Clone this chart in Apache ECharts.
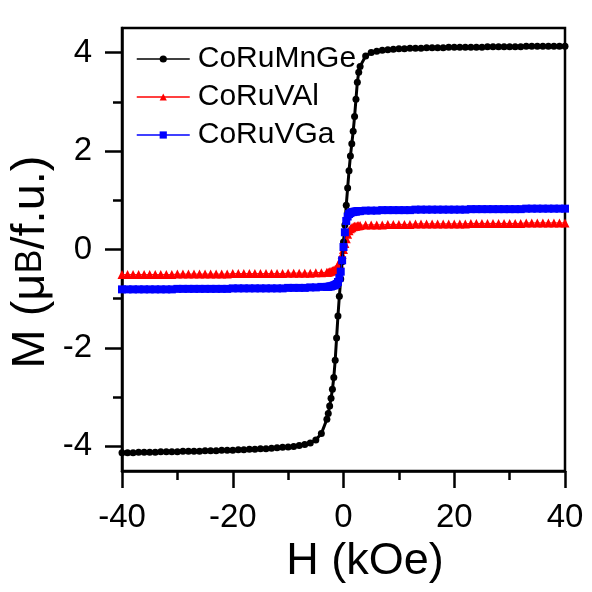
<!DOCTYPE html>
<html lang="en">
<head>
    <meta charset="UTF-8">
    <title>M-H</title>
    <style>
        *{
            margin: 0;
            padding: 0;
        }
        body{
            background: #fff;
        }
    </style>
</head>
<body>
<div id="main" style="width: 592px;height:592px;"></div>
<script src="https://cdn.jsdelivr.net/npm/echarts@6/dist/echarts.min.js"></script>
<script type="text/javascript">
    // field (kOe)
    var H = [-40,-39,-38,-37,-36,-35,-34,-33,-32,-31,
             -30,-29,-28,-27,-26,-25,-24,-23,-22,-21,
             -20,-19,-18,-17,-16,-15,-14,-13,-12,-11,
             -10,-9,-8,-7,-6,-5,-4,
             -3,-2.75,-2.5,-2.25,-2,-1.75,-1.5,-1.25,-1,-0.75,-0.5,-0.25,
             0,0.25,0.5,0.75,1,1.25,1.5,1.75,2,2.25,2.5,2.75,3,
             4,5,6,7,8,9,10,11,12,
             13,14,15,16,17,18,19,20,21,22,
             23,24,25,26,27,28,29,30,31,32,
             33,34,35,36,37,38,39,40];

    // M (muB/f.u.)
    var mCoRuMnGe = [-4.13,-4.13,-4.13,-4.12,-4.12,-4.12,-4.12,-4.11,-4.11,-4.11,
                     -4.11,-4.10,-4.10,-4.10,-4.10,-4.09,-4.09,-4.09,-4.08,-4.08,
                     -4.08,-4.07,-4.07,-4.06,-4.06,-4.05,-4.05,-4.04,-4.03,-4.02,
                     -4.01,-4.00,-3.98,-3.96,-3.93,-3.87,-3.74,
                     -3.45,-3.33,-3.18,-3.02,-2.84,-2.60,-2.25,-1.80,-1.35,-0.95,-0.60,-0.25,
                     0.15,0.50,0.90,1.25,1.60,1.90,2.15,2.40,2.70,3.05,3.40,3.60,3.72,
                     3.93,4.00,4.03,4.05,4.06,4.07,4.08,4.08,4.09,
                     4.09,4.09,4.10,4.10,4.10,4.10,4.11,4.11,4.11,4.11,
                     4.11,4.11,4.11,4.12,4.12,4.12,4.12,4.12,4.12,4.12,
                     4.13,4.13,4.13,4.13,4.13,4.13,4.13,4.13];
    var mCoRuVAl = [-0.51,-0.51,-0.51,-0.51,-0.51,-0.51,-0.51,-0.51,-0.51,-0.51,
                    -0.50,-0.50,-0.50,-0.50,-0.50,-0.50,-0.50,-0.50,-0.50,-0.50,
                    -0.49,-0.49,-0.49,-0.49,-0.49,-0.49,-0.49,-0.49,-0.49,-0.49,
                    -0.48,-0.48,-0.48,-0.48,-0.48,-0.47,-0.47,
                    -0.46,-0.46,-0.45,-0.44,-0.43,-0.42,-0.40,-0.37,-0.33,-0.28,-0.20,-0.10,
                    0.00,0.12,0.22,0.31,0.38,0.42,0.44,0.46,0.47,0.47,0.48,0.48,0.49,
                    0.50,0.50,0.50,0.50,0.51,0.51,0.51,0.51,0.51,
                    0.52,0.52,0.52,0.52,0.52,0.52,0.52,0.52,0.52,0.52,
                    0.53,0.53,0.53,0.53,0.53,0.53,0.53,0.53,0.53,0.53,
                    0.54,0.54,0.54,0.54,0.54,0.54,0.54,0.54];
    var mCoRuVGa = [-0.81,-0.81,-0.81,-0.81,-0.81,-0.81,-0.81,-0.81,-0.81,-0.81,
                    -0.80,-0.80,-0.80,-0.80,-0.80,-0.80,-0.80,-0.80,-0.80,-0.80,
                    -0.79,-0.79,-0.79,-0.79,-0.79,-0.79,-0.79,-0.79,-0.79,-0.79,
                    -0.78,-0.78,-0.78,-0.78,-0.77,-0.77,-0.76,
                    -0.76,-0.76,-0.75,-0.75,-0.74,-0.73,-0.72,-0.70,-0.66,-0.58,-0.45,-0.22,
                    0.05,0.35,0.58,0.67,0.72,0.74,0.76,0.76,0.77,0.77,0.78,0.78,0.78,
                    0.79,0.79,0.79,0.80,0.80,0.80,0.80,0.80,0.80,
                    0.81,0.81,0.81,0.81,0.81,0.81,0.81,0.81,0.81,0.81,
                    0.82,0.82,0.82,0.82,0.82,0.82,0.82,0.82,0.82,0.82,
                    0.83,0.83,0.83,0.83,0.83,0.83,0.83,0.83];

    var yMajor = [-4,-2,0,2,4];
    var yMinor = [-3,-1,1,3];

    function pairs(m){
        return H.map(function(h, i){ return [h, m[i]]; });
    }

    var myChart = echarts.init(document.getElementById('main'));
    var font = 'Liberation Sans, Arial, Helvetica, sans-serif';
    var tickStyle = {color: '#000', width: 2.5};

    myChart.setOption({
        animation: false,
        backgroundColor: '#fff',
        textStyle: {fontFamily: font},
        grid: {
            left: 122, right: 27, top: 28, bottom: 121,
            show: true,
            borderColor: '#000',
            borderWidth: 2.5
        },
        legend: {
            orient: 'vertical',
            left: 131,
            top: 39,
            itemWidth: 53,
            itemHeight: 9,
            itemGap: 8,
            data: ['CoRuMnGe', 'CoRuVAl', 'CoRuVGa'],
            lineStyle: {width: 1.5},
            textStyle: {fontSize: 30, color: '#000', fontFamily: font, padding: [0, 0, 0, 3]}
        },
        xAxis: {
            type: 'value',
            min: -40,
            max: 40,
            interval: 20,
            name: 'H (kOe)',
            nameLocation: 'middle',
            nameGap: 64,
            nameTextStyle: {fontSize: 45, color: '#000', fontFamily: font, padding: [0, 0, 0, 43]},
            axisLine: {onZero: false, lineStyle: {color: '#000', width: 2.5}},
            axisTick: {length: 17, lineStyle: tickStyle},
            minorTick: {show: true, splitNumber: 2, length: 9, lineStyle: tickStyle},
            axisLabel: {fontSize: 33, color: '#000', margin: 30, fontFamily: font},
            splitLine: {show: false}
        },
        yAxis: [{
            type: 'value',
            min: -4.5,
            max: 4.5,
            axisLine: {onZero: false, lineStyle: {color: '#000', width: 2.5}},
            axisTick: {length: 17, lineStyle: tickStyle, customValues: yMajor},
            axisLabel: {fontSize: 33, color: '#000', margin: 30, fontFamily: font, customValues: yMajor},
            splitLine: {show: false}
        }, {
            type: 'value',
            min: -4.5,
            max: 4.5,
            position: 'left',
            axisLine: {show: false, onZero: false},
            axisTick: {length: 9, lineStyle: tickStyle, customValues: yMinor},
            axisLabel: {show: false},
            splitLine: {show: false}
        }],
        graphic: [{
            type: 'text',
            x: 31,
            y: 262,
            rotation: Math.PI / 2,
            style: {
                text: 'M (μ{b|B}/f.u.)',
                fontSize: 47,
                fontFamily: font,
                fill: '#000',
                align: 'center',
                verticalAlign: 'middle',
                rich: {
                    b: {fontSize: 36, fontFamily: font, fill: '#000'}
                }
            }
        }],
        series: [
            {
                name: 'CoRuMnGe',
                type: 'line',
                color: '#000',
                z: 3,
                symbol: 'circle',
                symbolSize: 7,
                lineStyle: {width: 3},
                data: pairs(mCoRuMnGe)
            },
            {
                name: 'CoRuVAl',
                type: 'line',
                color: '#ff0000',
                z: 2,
                symbol: 'triangle',
                symbolSize: 9,
                lineStyle: {width: 1},
                data: pairs(mCoRuVAl)
            },
            {
                name: 'CoRuVGa',
                type: 'line',
                color: '#0000ff',
                z: 4,
                symbol: 'rect',
                symbolSize: 8,
                lineStyle: {width: 1},
                data: pairs(mCoRuVGa)
            }
        ]
    });
</script>
</body>
</html>
